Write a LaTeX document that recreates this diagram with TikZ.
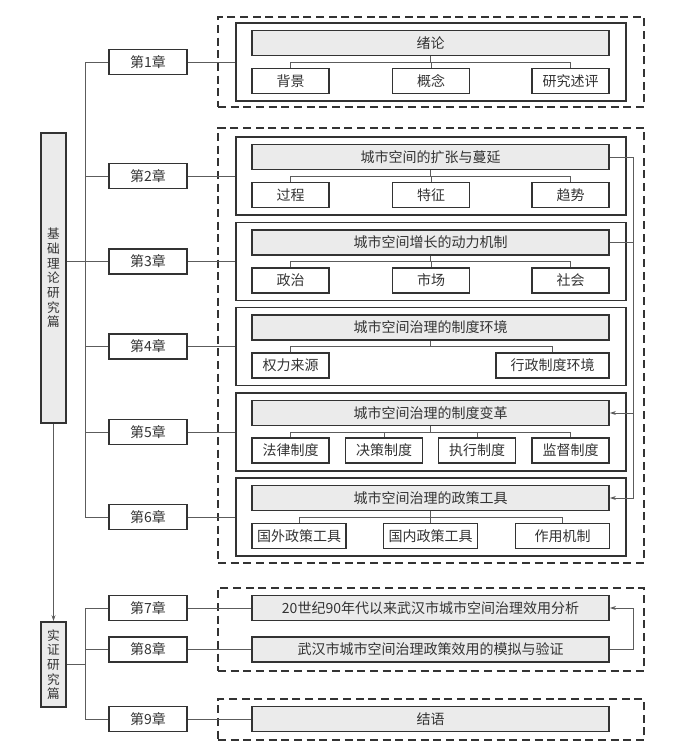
\documentclass[tikz,border=0pt]{standalone}
\usepackage{fontspec}
\newfontfamily\cjk{Noto Sans CJK SC}
\usepackage{xcolor}
\usetikzlibrary{arrows.meta,positioning}
\definecolor{ink}{HTML}{333333}
\definecolor{wire}{HTML}{5C5C5C}
\definecolor{shade}{HTML}{EBEBEB}
\tikzset{
  partbox/.style={
    rectangle, draw=ink, fill=shade, line width=1.4pt,
    minimum width=18.75pt, inner sep=0pt,
    font=\cjk\fontsize{9.5}{11}\selectfont, text=ink, align=center
  },
  chapbox/.style={
    rectangle, draw=ink, fill=white, line width=1.4pt,
    minimum width=58.5pt, minimum height=18.75pt, inner sep=0pt,
    font=\cjk\fontsize{10.5}{12}\selectfont, text=ink
  },
  framebox/.style={
    rectangle, draw=ink, line width=1.4pt,
    minimum width=292.5pt, minimum height=58.5pt, inner sep=0pt
  },
  titlebox/.style={
    rectangle, draw=ink, fill=shade, line width=1.4pt,
    minimum width=267.75pt, minimum height=18.75pt, inner sep=0pt,
    font=\cjk\fontsize{10.5}{12}\selectfont, text=ink
  },
  subbox/.style={
    rectangle, draw=ink, fill=white, line width=1.4pt,
    minimum width=#1, minimum height=18.75pt, inner sep=0pt,
    font=\cjk\fontsize{10.5}{12}\selectfont, text=ink
  },
  subbox/.default=57.75pt,
  groupbox/.style={
    rectangle, draw=ink, dash pattern=on 6pt off 3.5pt, line width=1.3pt,
    minimum width=319.5pt, minimum height=#1, inner sep=0pt
  },
  link/.style={draw=wire, line width=0.7pt},
  feedarrow/.style={link, -{Stealth[length=4.5pt, width=3pt]}},
}

\begin{document}
\begin{tikzpicture}[x=0.75pt, y=-0.75pt]
  \useasboundingbox (0,0) rectangle (680,755);
  \node[groupbox=67.5pt] (g1) at (431,62) {};
  \node[groupbox=326.25pt] (g2) at (431,345.5) {};
  \node[groupbox=62.25pt] (g3) at (431,629.5) {};
  \node[groupbox=30.75pt] (g4) at (431,719.5) {};

  \node[partbox, minimum height=217.5pt] (basic) at (53.5,278) {基\\础\\理\\论\\研\\究\\篇};
  \node[partbox, minimum height=63.75pt] (field) at (53.5,664.5) {实\\证\\研\\究\\篇};

  \node[chapbox] (c1) at (148,62) {第1章};
  \node[chapbox] (c2) at (148,176) {第2章};
  \node[chapbox] (c3) at (148,261.5) {第3章};
  \node[chapbox] (c4) at (148,346.5) {第4章};
  \node[chapbox] (c5) at (148,432) {第5章};
  \node[chapbox] (c6) at (148,517) {第6章};
  \node[chapbox] (c7) at (148,608) {第7章};
  \node[chapbox] (c8) at (148,649.5) {第8章};
  \node[chapbox] (c9) at (148,719) {第9章};

  \node[framebox] (f1) at (431,62) {};
  \node[framebox] (f2) at (431,176) {};
  \node[framebox] (f3) at (431,261.5) {};
  \node[framebox] (f4) at (431,346.5) {};
  \node[framebox] (f5) at (431,432) {};
  \node[framebox] (f6) at (431,517) {};

  \node[titlebox] (t1) at (430.5,43) {绪论};
  \node[titlebox] (t2) at (430.5,157) {城市空间的扩张与蔓延};
  \node[titlebox] (t3) at (430.5,242.5) {城市空间增长的动力机制};
  \node[titlebox] (t4) at (430.5,327.5) {城市空间治理的制度环境};
  \node[titlebox] (t5) at (430.5,413) {城市空间治理的制度变革};
  \node[titlebox] (t6) at (430.5,498) {城市空间治理的政策工具};
  \node[titlebox] (e7) at (430.5,608) {20世纪90年代以来武汉市城市空间治理效用分析};
  \node[titlebox] (e8) at (430.5,649.5) {武汉市城市空间治理政策效用的模拟与验证};
  \node[titlebox] (e9) at (430.5,719) {结语};

  \node[subbox] (s1a) at (290.5,81) {背景};
  \node[subbox] (s1b) at (431,81) {概念};
  \node[subbox] (s1c) at (570.5,81) {研究述评};
  \node[subbox] (s2a) at (290.5,195) {过程};
  \node[subbox] (s2b) at (431,195) {特征};
  \node[subbox] (s2c) at (570.5,195) {趋势};
  \node[subbox] (s3a) at (290.5,280.5) {政治};
  \node[subbox] (s3b) at (431,280.5) {市场};
  \node[subbox] (s3c) at (570.5,280.5) {社会};
  \node[subbox] (s4a) at (290.5,365.5) {权力来源};
  \node[subbox=84.75pt] (s4b) at (552.5,365.5) {行政制度环境};
  \node[subbox] (s5a) at (290.5,450.5) {法律制度};
  \node[subbox] (s5b) at (384,450.5) {决策制度};
  \node[subbox] (s5c) at (477,450.5) {执行制度};
  \node[subbox] (s5d) at (570.5,450.5) {监督制度};
  \node[subbox=70.5pt] (s6a) at (299,536) {国外政策工具};
  \node[subbox=70.5pt] (s6b) at (430.5,536) {国内政策工具};
  \node[subbox=70.5pt] (s6c) at (562.5,536) {作用机制};

  \coordinate (busa) at (85,0);
  \coordinate (fb) at (633,0);

  \draw[link] (c1.west) -| (busa |- c6.west) -- (c6.west);
  \draw[link] (busa |- c2.west) -- (c2.west);
  \draw[link] (basic.east |- c3.west) -- (c3.west);
  \draw[link] (busa |- c4.west) -- (c4.west);
  \draw[link] (busa |- c5.west) -- (c5.west);
  \draw[link] (c7.west) -| (busa |- c9.west) -- (c9.west);
  \draw[link] (busa |- c8.west) -- (c8.west);
  \draw[link] (field.east) -- (busa |- field.east);
  \draw[feedarrow] (basic.south) -- (field.north);

  \draw[link] (c1.east) -- (f1.west);
  \draw[link] (c2.east) -- (f2.west);
  \draw[link] (c3.east) -- (f3.west);
  \draw[link] (c4.east) -- (f4.west);
  \draw[link] (c5.east) -- (f5.west);
  \draw[link] (c6.east) -- (f6.west);
  \draw[link] (c7.east) -- (e7.west);
  \draw[link] (c8.east) -- (e8.west);
  \draw[link] (c9.east) -- (e9.west);

  \draw[link] (t1.south) -- (t1.south |- f1.center);
  \draw[link] (s1a.north) |- (s1c.north |- f1.center) -- (s1c.north);
  \draw[link] (s1b.north) -- (s1b.north |- f1.center);
  \draw[link] (t2.south) -- (t2.south |- f2.center);
  \draw[link] (s2a.north) |- (s2c.north |- f2.center) -- (s2c.north);
  \draw[link] (s2b.north) -- (s2b.north |- f2.center);
  \draw[link] (t3.south) -- (t3.south |- f3.center);
  \draw[link] (s3a.north) |- (s3c.north |- f3.center) -- (s3c.north);
  \draw[link] (s3b.north) -- (s3b.north |- f3.center);
  \draw[link] (t4.south) -- (t4.south |- f4.center);
  \draw[link] (s4a.north) |- (s4b.north |- f4.center) -- (s4b.north);
  \draw[link] (t5.south) -- (t5.south |- f5.center);
  \draw[link] (s5a.north) |- (s5d.north |- f5.center) -- (s5d.north);
  \draw[link] (s5b.north) -- (s5b.north |- f5.center);
  \draw[link] (s5c.north) -- (s5c.north |- f5.center);
  \draw[link] (t6.south) -- (t6.south |- f6.center);
  \draw[link] (s6a.north) |- (s6c.north |- f6.center) -- (s6c.north);
  \draw[link] (s6b.north) -- (s6b.north |- f6.center);

  \draw[feedarrow] (t2.east) -| (fb |- t6.east) -- (t6.east);
  \draw[link] (t3.east) -- (fb |- t3.east);
  \draw[feedarrow] (fb |- t5.east) -- (t5.east);
  \draw[feedarrow] (e8.east) -| (fb |- e7.east) -- (e7.east);
\end{tikzpicture}
\end{document}
